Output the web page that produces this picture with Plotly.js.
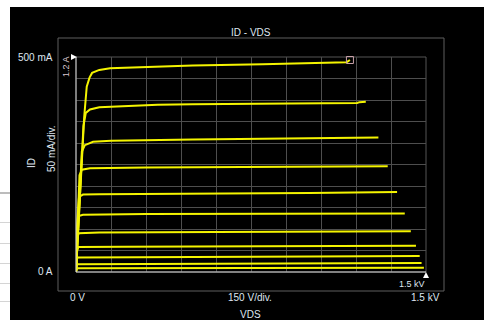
<!DOCTYPE html>
<html><head><meta charset="utf-8">
<script src="https://cdn.plot.ly/plotly-3.0.1.min.js"></script>
<style>
html,body{margin:0;padding:0;background:#000;}
#wrap{position:relative;width:484px;height:320px;overflow:hidden;}
#chart{position:absolute;left:0;top:0;width:484px;height:320px;}
.w{position:absolute;background:#fff;}
.g{position:absolute;left:0;width:10px;height:1px;background:#d4d4d4;}
</style></head><body>
<div id="wrap"><div id="chart"></div>
<div class="w" style="left:0;top:0;width:484px;height:7px"></div>
<div class="w" style="left:0;top:0;width:10px;height:320px"></div>
<div class="g" style="top:192px;height:2px;background:#bcbcbc"></div>
<div class="g" style="top:222px"></div>
<div class="g" style="top:243px"></div>
<div class="g" style="top:263px"></div>
<div class="g" style="top:283px"></div>
<div class="g" style="top:301px"></div>
</div>
<script>
// ---- data (VDS in V, ID in mA) ----
const c1x = [0, 10, 21, 35, 46, 58, 69, 100, 146, 300, 500, 800, 1090, 1160, 1174];
const c1y = [0, 100, 237, 360, 431, 452, 463, 470, 474, 477, 480, 483, 487, 488, 493];
const c2x = [0, 10, 21, 32, 42, 60, 100, 200, 350, 500, 800, 1000, 1205, 1215, 1242];
const c2y = [0, 100, 237, 340, 370, 378, 383, 386, 389, 390, 392, 393, 393, 395, 396];
const c3x = [0, 8, 18, 25, 38, 73, 150, 300, 500, 800, 1100, 1296];
const c3y = [0, 90, 230, 280, 295, 303, 305, 307, 308, 310, 311, 313];
const c4x = [0, 8, 15, 25, 60, 300, 700, 1000, 1336];
const c4y = [0, 150, 225, 238, 241, 243, 244, 245, 246];
const c5x = [0, 6, 13, 30, 100, 500, 1000, 1376];
const c5y = [0, 120, 175, 180, 181, 182, 184, 186];
const c6x = [0, 5, 11, 30, 300, 900, 1409];
const c6y = [0, 100, 130, 133, 135, 136, 136];
const c7x = [0, 5, 12, 100, 600, 1250, 1300, 1435];
const c7y = [0, 80, 90, 92, 93, 94, 95, 95];
const c8x = [0, 4, 10, 200, 800, 1457];
const c8y = [0, 50, 58, 59, 60, 61];
const c9x = [0, 3, 8, 300, 1000, 1473];
const c9y = [0, 30, 34, 35, 36, 37];
const c10x = [0, 2, 6, 500, 1000, 1481];
const c10y = [0, 15, 18, 19, 20, 21];
const c11x = [0, 2, 5, 1491];
const c11y = [0, 8, 9, 10];

const curvesX = [c1x, c2x, c3x, c4x, c5x, c6x, c7x, c8x, c9x, c10x, c11x];
const curvesY = [c1y, c2y, c3y, c4y, c5y, c6y, c7y, c8y, c9y, c10y, c11y];

const titleText = 'ID - VDS';
const yTopLabel = '500 mA';
const yBotLabel = '0 A';
const yName = 'ID';
const yDiv = '50 mA/div.';
const yScale = '1.2 A';
const xLeftLabel = '0 V';
const xDiv = '150 V/div.';
const xRightLabel = '1.5 kV';
const xMarkLabel = '1.5 kV';
const xName = 'VDS';

// ---- layout helpers (pixel -> paper) ----
const L = 76, R = 426, T = 57, B = 272;
const X = px => (px - L) / (R - L);
const Y = py => (B - py) / (B - T);

const traces = curvesX.map((xs, i) => ({
  x: xs, y: curvesY[i], type: 'scatter', mode: 'lines',
  line: {color: '#f4f400', width: 2}, hoverinfo: 'skip'
}));
traces.push({
  x: [c1x[c1x.length - 1]], y: [c1y[c1y.length - 1]], type: 'scatter', mode: 'markers',
  marker: {symbol: 'square-open', size: 7, color: '#c8a0a8', line: {width: 1, color: '#c8a0a8'}},
  cliponaxis: false, hoverinfo: 'skip'
});

const txtFont = {family: 'Liberation Sans, Arial, sans-serif', size: 10, color: '#dfe6f0'};
function ann(text, px, py, extra) {
  return Object.assign({text, x: X(px), y: Y(py), xref: 'paper', yref: 'paper',
    showarrow: false, xanchor: 'center', yanchor: 'middle', font: txtFont}, extra || {});
}

const layout = {
  width: 484, height: 320,
  margin: {l: L, r: 484 - R, t: T, b: 320 - B, pad: 0},
  paper_bgcolor: '#000', plot_bgcolor: '#000',
  showlegend: false,
  xaxis: {range: [0, 1500], tick0: 0, dtick: 150, showticklabels: false, ticks: '',
          gridcolor: '#4e4e4e', gridwidth: 1, zeroline: false, showline: false, fixedrange: true},
  yaxis: {range: [0, 500], tick0: 0, dtick: 50, showticklabels: false, ticks: '',
          gridcolor: '#4e4e4e', gridwidth: 1, zeroline: false, showline: false, fixedrange: true},
  shapes: [
    {type: 'rect', xref: 'paper', yref: 'paper', x0: X(58), x1: X(444), y0: Y(291), y1: Y(38),
     line: {color: '#5e5e5e', width: 1}},
    {type: 'rect', xref: 'paper', yref: 'paper', x0: 0, x1: 1, y0: 0, y1: 1,
     line: {color: '#555', width: 1}, layer: 'below'},
    {type: 'line', xref: 'paper', yref: 'paper', x0: 0, x1: 0, y0: 0, y1: 1,
     line: {color: '#d0d0d0', width: 1}},
    {type: 'line', xref: 'paper', yref: 'paper', x0: 0, x1: 1, y0: 0, y1: 0,
     line: {color: '#d8d8d8', width: 1}},
    {type: 'path', xref: 'paper', yref: 'paper',
     path: `M${X(71)},${Y(54)} L${X(71)},${Y(60)} L${X(77)},${Y(57)} Z`,
     fillcolor: '#fff', line: {color: '#fff', width: 0}},
    {type: 'path', xref: 'paper', yref: 'paper',
     path: `M${X(423)},${Y(278)} L${X(429)},${Y(278)} L${X(426)},${Y(272)} Z`,
     fillcolor: '#fff', line: {color: '#fff', width: 0}}
  ],
  annotations: [
    ann(titleText, 251, 32),
    ann(yTopLabel, 55, 57, {xanchor: 'right'}),
    ann(yBotLabel, 55, 271, {xanchor: 'right'}),
    ann(yName, 31, 163, {textangle: -90}),
    ann(yDiv, 51, 149, {textangle: -90}),
    ann(yScale, 66, 67, {textangle: -90, font: Object.assign({}, txtFont, {size: 9, color: '#d8c8d0'})}),
    ann(xLeftLabel, 77, 297),
    ann(xDiv, 250, 297),
    ann(xRightLabel, 425, 297),
    ann(xMarkLabel, 412, 284, {font: Object.assign({}, txtFont, {size: 9})}),
    ann(xName, 250, 314)
  ]
};

Plotly.newPlot('chart', traces, layout, {staticPlot: true, displayModeBar: false});
</script>
</body></html>
